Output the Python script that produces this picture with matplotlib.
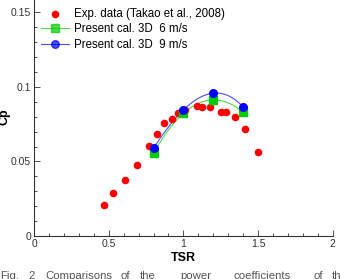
import numpy as np
import matplotlib.pyplot as plt
from matplotlib.ticker import MultipleLocator, FixedFormatter, FixedLocator

plt.rcParams['font.family'] = ['Liberation Sans', 'DejaVu Sans']

# experimental data (Takao et al., 2008)
tsr_exp = [0.468, 0.530, 0.609, 0.691, 0.769, 0.825, 0.870, 0.923, 0.961, 1.010,
           1.088, 1.122, 1.179, 1.249, 1.286, 1.347, 1.409, 1.498]
cp_exp = [0.0206, 0.0289, 0.0378, 0.0474, 0.0606, 0.0683, 0.0756, 0.0785, 0.0823, 0.0846,
          0.0874, 0.0866, 0.0866, 0.0834, 0.0832, 0.0797, 0.0716, 0.0562]

# present calculation 3D
tsr_cal = [0.8, 1.0, 1.2, 1.4]
cp_6 = [0.0555, 0.0823, 0.0913, 0.0830]
cp_9 = [0.0589, 0.0846, 0.0958, 0.0866]

caption = ['Fig.', '2', 'Comparisons', 'of', 'the', 'power', 'coefficients', 'of', 'the']
caption_x = [0, 28, 45, 120, 140, 180, 233, 313, 332]

fig = plt.figure(figsize=(3.4, 2.79), dpi=100)
ax = fig.add_axes([0.1, 0.154, 0.879, 0.855])

ax.scatter(tsr_exp, cp_exp, s=30, color='#ff0000', zorder=3, linewidths=0,
           label='Exp. data (Takao et al., 2008)')

xs = np.linspace(tsr_cal[0], tsr_cal[-1], 100)
for cp, col, mk, lab in [(cp_6, '#00cc00', 's', 'Present cal. 3D  6 m/s'),
                         (cp_9, '#0000ff', 'o', 'Present cal. 3D  9 m/s')]:
    c = np.polyfit(tsr_cal, cp, 3)
    ax.plot(xs, np.polyval(c, xs), color=col, lw=0.8, alpha=0.7, zorder=2)
    ax.plot(tsr_cal, cp, linestyle='none', marker=mk, color=col, ms=5.5, zorder=4)
    ax.plot([], [], color=col, lw=0.8, alpha=0.7, marker=mk, ms=5.5,
            markeredgecolor=col, markerfacecolor=col, label=lab)

ax.set_xlim(0, 2)
ax.set_ylim(0, 0.16)
ax.spines['top'].set_visible(False)
ax.spines['right'].set_visible(False)
for s in ['left', 'bottom']:
    ax.spines[s].set_linewidth(0.8)
    ax.spines[s].set_color('#333333')

ax.xaxis.set_major_locator(FixedLocator([0, 0.5, 1, 1.5, 2]))
ax.xaxis.set_major_formatter(FixedFormatter(['0', '0.5', '1', '1.5', '2']))
ax.yaxis.set_major_locator(FixedLocator([0, 0.05, 0.1, 0.15]))
ax.yaxis.set_major_formatter(FixedFormatter(['0', '0.05', '0.1', '0.15']))
ax.xaxis.set_minor_locator(MultipleLocator(0.1))
ax.yaxis.set_minor_locator(MultipleLocator(0.01))
ax.tick_params(which='both', direction='in', color='#333333', width=0.6,
               labelsize=7.5, labelcolor='#333333', pad=2)
ax.tick_params(which='major', length=4)
ax.tick_params(which='minor', length=2)

ax.set_xlabel('TSR', fontsize=9, fontweight='bold', labelpad=2)
ax.set_ylabel('Cp', fontsize=9, fontweight='bold', labelpad=0)

ax.legend(loc='upper left', bbox_to_anchor=(0.0, 0.985), frameon=False, fontsize=8.3,
          handlelength=2.4, handletextpad=0.5, labelspacing=0.3, borderaxespad=0.2)

for w, px in zip(caption, caption_x):
    fig.text(px / 340, 1 - 271 / 279, w, fontsize=8.2, color='#555555',
             va='top', ha='left')

fig.savefig('out.png', dpi=100)
